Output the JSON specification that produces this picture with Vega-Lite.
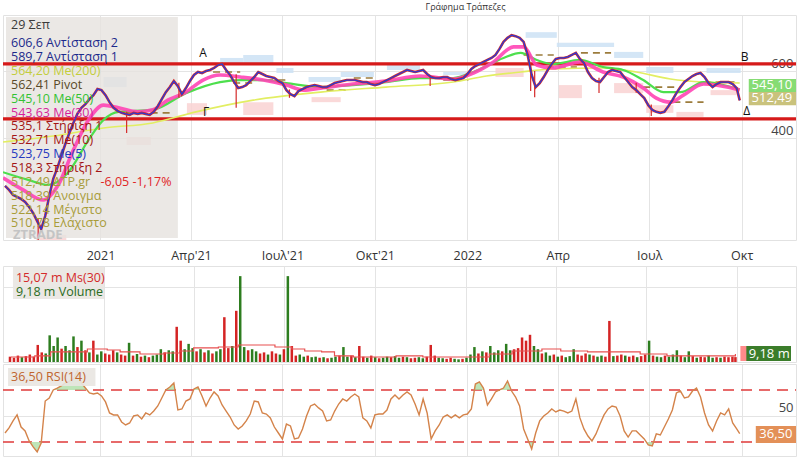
{
"$schema":"https://vega.github.io/schema/vega-lite/v6.json",
"background":"white",
"padding":{"left":0,"top":2,"right":0,"bottom":0},
"autosize":{"type":"pad"},
"spacing":0,
"title":{"text":"Γράφημα Τράπεζες","fontSize":9,"fontWeight":"normal","color":"#333333","anchor":"middle","dx":66,"offset":3,"font":"Open Sans"},
"config":{"font":"Open Sans","view":{"stroke":"#e2e2e2"},"axis":{"gridColor":"#e4e4e4","gridWidth":1}},
"resolve":{"scale":{"color":"independent","fill":"independent"}},
"datasets":{
"main":[
{"d":"2020-09-28","c":257,"r":36.9,"v":10,"dir":"d"},
{"d":"2020-10-02","c":245,"r":40.8,"v":8,"dir":"d"},
{"d":"2020-10-06","c":230,"r":46.2,"v":12,"dir":"d"},
{"d":"2020-10-10","c":224,"r":50.8,"v":9,"dir":"u"},
{"d":"2020-10-14","c":218,"r":41.5,"v":11,"dir":"d"},
{"d":"2020-10-18","c":209,"r":38.5,"v":14,"dir":"d"},
{"d":"2020-10-22","c":194,"r":30.8,"v":10,"dir":"d"},
{"d":"2020-10-26","c":176,"r":26.2,"v":32,"dir":"d"},
{"d":"2020-10-30","c":152,"r":22.3,"v":18,"dir":"d"},
{"d":"2020-11-03","c":128,"r":29.2,"v":16,"dir":"u"},
{"d":"2020-11-07","c":167,"r":61.5,"v":50,"dir":"u"},
{"d":"2020-11-11","c":227,"r":63.8,"v":30,"dir":"u"},
{"d":"2020-11-15","c":278,"r":70,"v":46,"dir":"u"},
{"d":"2020-11-19","c":310,"r":71.5,"v":25,"dir":"d"},
{"d":"2020-11-23","c":346,"r":73.1,"v":30,"dir":"u"},
{"d":"2020-11-27","c":382,"r":75.4,"v":22,"dir":"u"},
{"d":"2020-12-01","c":415,"r":76.9,"v":48,"dir":"u"},
{"d":"2020-12-05","c":445,"r":78.5,"v":28,"dir":"d"},
{"d":"2020-12-09","c":472,"r":84.6,"v":40,"dir":"u"},
{"d":"2020-12-13","c":490,"r":75.4,"v":22,"dir":"d"},
{"d":"2020-12-17","c":501,"r":71.5,"v":18,"dir":"u"},
{"d":"2020-12-21","c":516,"r":67.7,"v":40,"dir":"d"},
{"d":"2020-12-25","c":528,"r":66.9,"v":14,"dir":"u"},
{"d":"2020-12-29","c":546,"r":67.7,"v":20,"dir":"u"},
{"d":"2021-01-02","c":543,"r":65.4,"v":16,"dir":"d"},
{"d":"2021-01-06","c":528,"r":60.8,"v":14,"dir":"d"},
{"d":"2021-01-10","c":507,"r":52.3,"v":22,"dir":"d"},
{"d":"2021-01-14","c":490,"r":50.8,"v":18,"dir":"u"},
{"d":"2021-01-18","c":481,"r":50.8,"v":14,"dir":"d"},
{"d":"2021-01-22","c":475,"r":45.4,"v":12,"dir":"d"},
{"d":"2021-01-26","c":472,"r":43.1,"v":36,"dir":"u"},
{"d":"2021-01-30","c":469,"r":44.6,"v":12,"dir":"d"},
{"d":"2021-02-03","c":475,"r":50,"v":15,"dir":"u"},
{"d":"2021-02-07","c":472,"r":50.8,"v":10,"dir":"d"},
{"d":"2021-02-11","c":475,"r":47.7,"v":12,"dir":"u"},
{"d":"2021-02-15","c":472,"r":52.3,"v":9,"dir":"d"},
{"d":"2021-02-19","c":469,"r":50.8,"v":12,"dir":"u"},
{"d":"2021-02-23","c":478,"r":53.8,"v":14,"dir":"u"},
{"d":"2021-02-27","c":495,"r":57.7,"v":24,"dir":"u"},
{"d":"2021-03-03","c":516,"r":63.8,"v":18,"dir":"d"},
{"d":"2021-03-07","c":537,"r":70,"v":22,"dir":"u"},
{"d":"2021-03-11","c":552,"r":72.3,"v":20,"dir":"u"},
{"d":"2021-03-15","c":570,"r":75.4,"v":66,"dir":"d"},
{"d":"2021-03-19","c":555,"r":54.6,"v":40,"dir":"d"},
{"d":"2021-03-23","c":531,"r":55.4,"v":24,"dir":"u"},
{"d":"2021-03-27","c":549,"r":61.5,"v":34,"dir":"u"},
{"d":"2021-03-31","c":570,"r":63.1,"v":26,"dir":"u"},
{"d":"2021-04-04","c":588,"r":70.8,"v":20,"dir":"d"},
{"d":"2021-04-08","c":597,"r":72.3,"v":24,"dir":"u"},
{"d":"2021-04-12","c":594,"r":65.4,"v":18,"dir":"d"},
{"d":"2021-04-16","c":600,"r":57.7,"v":22,"dir":"u"},
{"d":"2021-04-20","c":603,"r":63.8,"v":16,"dir":"d"},
{"d":"2021-04-24","c":609,"r":68.5,"v":20,"dir":"u"},
{"d":"2021-04-28","c":618,"r":65.4,"v":24,"dir":"u"},
{"d":"2021-05-02","c":621,"r":58.5,"v":84,"dir":"d"},
{"d":"2021-05-06","c":603,"r":53.8,"v":26,"dir":"d"},
{"d":"2021-05-10","c":588,"r":49.2,"v":30,"dir":"u"},
{"d":"2021-05-14","c":567,"r":43.1,"v":96,"dir":"d"},
{"d":"2021-05-18","c":549,"r":40,"v":161,"dir":"u"},
{"d":"2021-05-22","c":552,"r":42.3,"v":28,"dir":"u"},
{"d":"2021-05-26","c":558,"r":46.2,"v":22,"dir":"d"},
{"d":"2021-05-30","c":570,"r":51.5,"v":24,"dir":"u"},
{"d":"2021-06-03","c":582,"r":61.5,"v":20,"dir":"u"},
{"d":"2021-06-07","c":597,"r":60.8,"v":16,"dir":"d"},
{"d":"2021-06-11","c":591,"r":52.3,"v":18,"dir":"d"},
{"d":"2021-06-15","c":585,"r":51.5,"v":14,"dir":"u"},
{"d":"2021-06-19","c":582,"r":48.5,"v":20,"dir":"d"},
{"d":"2021-06-23","c":579,"r":41.5,"v":16,"dir":"d"},
{"d":"2021-06-27","c":570,"r":36.9,"v":14,"dir":"u"},
{"d":"2021-07-01","c":564,"r":32.3,"v":24,"dir":"d"},
{"d":"2021-07-05","c":543,"r":43.8,"v":161,"dir":"u"},
{"d":"2021-07-09","c":531,"r":42.3,"v":30,"dir":"d"},
{"d":"2021-07-13","c":525,"r":32.3,"v":12,"dir":"d"},
{"d":"2021-07-17","c":540,"r":33.1,"v":14,"dir":"u"},
{"d":"2021-07-21","c":546,"r":40,"v":10,"dir":"u"},
{"d":"2021-07-25","c":552,"r":50,"v":12,"dir":"d"},
{"d":"2021-07-29","c":555,"r":57.7,"v":9,"dir":"u"},
{"d":"2021-08-02","c":558,"r":59.2,"v":10,"dir":"u"},
{"d":"2021-08-06","c":555,"r":56.2,"v":8,"dir":"d"},
{"d":"2021-08-10","c":552,"r":53.8,"v":9,"dir":"u"},
{"d":"2021-08-14","c":552,"r":46.2,"v":7,"dir":"d"},
{"d":"2021-08-18","c":558,"r":46.9,"v":8,"dir":"u"},
{"d":"2021-08-22","c":564,"r":53.8,"v":10,"dir":"u"},
{"d":"2021-08-26","c":567,"r":59.2,"v":12,"dir":"d"},
{"d":"2021-08-30","c":570,"r":63.1,"v":28,"dir":"u"},
{"d":"2021-09-03","c":573,"r":61.5,"v":10,"dir":"u"},
{"d":"2021-09-07","c":573,"r":64.6,"v":12,"dir":"d"},
{"d":"2021-09-11","c":573,"r":66.9,"v":9,"dir":"u"},
{"d":"2021-09-15","c":570,"r":64.6,"v":30,"dir":"d"},
{"d":"2021-09-19","c":567,"r":48.5,"v":10,"dir":"d"},
{"d":"2021-09-23","c":567,"r":46.2,"v":8,"dir":"u"},
{"d":"2021-09-27","c":561,"r":40.8,"v":12,"dir":"d"},
{"d":"2021-10-01","c":558,"r":50.8,"v":9,"dir":"u"},
{"d":"2021-10-05","c":561,"r":51.5,"v":7,"dir":"d"},
{"d":"2021-10-09","c":567,"r":51.5,"v":8,"dir":"u"},
{"d":"2021-10-13","c":573,"r":54.6,"v":10,"dir":"u"},
{"d":"2021-10-17","c":579,"r":63.1,"v":9,"dir":"d"},
{"d":"2021-10-21","c":585,"r":66.2,"v":11,"dir":"u"},
{"d":"2021-10-25","c":591,"r":63.1,"v":8,"dir":"u"},
{"d":"2021-10-29","c":597,"r":66.2,"v":10,"dir":"d"},
{"d":"2021-11-02","c":603,"r":68.5,"v":9,"dir":"u"},
{"d":"2021-11-06","c":600,"r":66.2,"v":7,"dir":"d"},
{"d":"2021-11-10","c":597,"r":59.2,"v":8,"dir":"d"},
{"d":"2021-11-14","c":600,"r":50.8,"v":9,"dir":"u"},
{"d":"2021-11-18","c":603,"r":63.1,"v":7,"dir":"u"},
{"d":"2021-11-22","c":591,"r":52.3,"v":10,"dir":"d"},
{"d":"2021-11-26","c":582,"r":32.3,"v":32,"dir":"d"},
{"d":"2021-11-30","c":579,"r":38.5,"v":12,"dir":"d"},
{"d":"2021-12-04","c":579,"r":43.1,"v":8,"dir":"u"},
{"d":"2021-12-08","c":582,"r":49.2,"v":7,"dir":"u"},
{"d":"2021-12-12","c":582,"r":50.8,"v":6,"dir":"d"},
{"d":"2021-12-16","c":576,"r":48.5,"v":8,"dir":"d"},
{"d":"2021-12-20","c":573,"r":50.8,"v":6,"dir":"u"},
{"d":"2021-12-24","c":576,"r":48.5,"v":5,"dir":"u"},
{"d":"2021-12-28","c":579,"r":50.8,"v":6,"dir":"d"},
{"d":"2022-01-01","c":591,"r":51.5,"v":8,"dir":"u"},
{"d":"2022-01-05","c":606,"r":55.4,"v":14,"dir":"u"},
{"d":"2022-01-09","c":615,"r":74.6,"v":28,"dir":"u"},
{"d":"2022-01-13","c":621,"r":76.2,"v":16,"dir":"d"},
{"d":"2022-01-17","c":627,"r":71.5,"v":20,"dir":"u"},
{"d":"2022-01-21","c":633,"r":58.5,"v":18,"dir":"d"},
{"d":"2022-01-25","c":639,"r":63.1,"v":30,"dir":"u"},
{"d":"2022-01-29","c":648,"r":68.5,"v":18,"dir":"u"},
{"d":"2022-02-02","c":666,"r":70,"v":22,"dir":"u"},
{"d":"2022-02-06","c":687,"r":71.5,"v":20,"dir":"d"},
{"d":"2022-02-10","c":699,"r":76.9,"v":34,"dir":"u"},
{"d":"2022-02-14","c":707,"r":69.2,"v":22,"dir":"u"},
{"d":"2022-02-18","c":704,"r":64.6,"v":24,"dir":"d"},
{"d":"2022-02-22","c":699,"r":57.7,"v":26,"dir":"d"},
{"d":"2022-02-26","c":687,"r":40,"v":46,"dir":"d"},
{"d":"2022-03-02","c":648,"r":32.3,"v":40,"dir":"d"},
{"d":"2022-03-06","c":588,"r":24.6,"v":51,"dir":"d"},
{"d":"2022-03-10","c":552,"r":36.9,"v":30,"dir":"u"},
{"d":"2022-03-14","c":564,"r":46.2,"v":24,"dir":"u"},
{"d":"2022-03-18","c":582,"r":50,"v":16,"dir":"d"},
{"d":"2022-03-22","c":603,"r":52.3,"v":18,"dir":"u"},
{"d":"2022-03-26","c":621,"r":55.4,"v":12,"dir":"u"},
{"d":"2022-03-30","c":636,"r":53.1,"v":14,"dir":"d"},
{"d":"2022-04-03","c":639,"r":54.6,"v":10,"dir":"u"},
{"d":"2022-04-07","c":639,"r":53.8,"v":12,"dir":"d"},
{"d":"2022-04-11","c":642,"r":52.3,"v":9,"dir":"u"},
{"d":"2022-04-15","c":648,"r":53.8,"v":11,"dir":"u"},
{"d":"2022-04-19","c":654,"r":63.1,"v":24,"dir":"u"},
{"d":"2022-04-23","c":636,"r":48.5,"v":14,"dir":"d"},
{"d":"2022-04-27","c":624,"r":40,"v":12,"dir":"d"},
{"d":"2022-05-01","c":597,"r":34.6,"v":16,"dir":"d"},
{"d":"2022-05-05","c":579,"r":30.8,"v":14,"dir":"u"},
{"d":"2022-05-09","c":570,"r":36.2,"v":12,"dir":"d"},
{"d":"2022-05-13","c":567,"r":43.8,"v":10,"dir":"u"},
{"d":"2022-05-17","c":582,"r":50.8,"v":12,"dir":"u"},
{"d":"2022-05-21","c":597,"r":55.4,"v":10,"dir":"d"},
{"d":"2022-05-25","c":603,"r":57.7,"v":77,"dir":"d"},
{"d":"2022-05-29","c":600,"r":56.9,"v":11,"dir":"u"},
{"d":"2022-06-02","c":597,"r":50,"v":12,"dir":"d"},
{"d":"2022-06-06","c":582,"r":38.5,"v":14,"dir":"d"},
{"d":"2022-06-10","c":567,"r":33.8,"v":12,"dir":"u"},
{"d":"2022-06-14","c":552,"r":38.5,"v":10,"dir":"d"},
{"d":"2022-06-18","c":543,"r":38.5,"v":12,"dir":"d"},
{"d":"2022-06-22","c":531,"r":35.4,"v":9,"dir":"u"},
{"d":"2022-06-26","c":519,"r":32.3,"v":11,"dir":"d"},
{"d":"2022-06-30","c":498,"r":27.7,"v":14,"dir":"d"},
{"d":"2022-07-04","c":484,"r":26.9,"v":40,"dir":"u"},
{"d":"2022-07-08","c":478,"r":36.2,"v":12,"dir":"d"},
{"d":"2022-07-12","c":475,"r":35.4,"v":10,"dir":"u"},
{"d":"2022-07-16","c":478,"r":41.5,"v":9,"dir":"u"},
{"d":"2022-07-20","c":495,"r":47.7,"v":12,"dir":"d"},
{"d":"2022-07-24","c":513,"r":54.6,"v":10,"dir":"u"},
{"d":"2022-07-28","c":534,"r":67.7,"v":14,"dir":"u"},
{"d":"2022-08-01","c":552,"r":69.2,"v":22,"dir":"u"},
{"d":"2022-08-05","c":567,"r":63.8,"v":12,"dir":"d"},
{"d":"2022-08-09","c":576,"r":64.6,"v":9,"dir":"u"},
{"d":"2022-08-13","c":585,"r":69.2,"v":20,"dir":"u"},
{"d":"2022-08-17","c":591,"r":71.5,"v":11,"dir":"d"},
{"d":"2022-08-21","c":594,"r":64.6,"v":8,"dir":"u"},
{"d":"2022-08-25","c":582,"r":52.3,"v":10,"dir":"d"},
{"d":"2022-08-29","c":564,"r":43.1,"v":9,"dir":"d"},
{"d":"2022-09-02","c":552,"r":38.5,"v":12,"dir":"u"},
{"d":"2022-09-06","c":561,"r":46.2,"v":8,"dir":"u"},
{"d":"2022-09-10","c":567,"r":52.3,"v":9,"dir":"d"},
{"d":"2022-09-14","c":567,"r":50.8,"v":8,"dir":"u"},
{"d":"2022-09-18","c":567,"r":55.4,"v":10,"dir":"d"},
{"d":"2022-09-22","c":561,"r":44.6,"v":9,"dir":"d"},
{"d":"2022-09-26","c":549,"r":40,"v":10,"dir":"d"},
{"d":"2022-09-29","c":512.49,"r":36.5,"v":9.18,"dir":"d"}
],
"ob":[
{"d":"2020-10-23","r":30,"b":30,"g":"a"},{"d":"2020-10-26","r":26.2,"b":30,"g":"a"},{"d":"2020-10-30","r":22.3,"b":30,"g":"a"},{"d":"2020-11-03","r":29.2,"b":30,"g":"a"},
{"d":"2020-11-15","r":70,"b":70,"g":"b"},{"d":"2020-11-19","r":71.5,"b":70,"g":"b"},{"d":"2020-11-23","r":73.1,"b":70,"g":"b"},{"d":"2020-11-27","r":75.4,"b":70,"g":"b"},{"d":"2020-12-01","r":76.9,"b":70,"g":"b"},{"d":"2020-12-05","r":78.5,"b":70,"g":"b"},{"d":"2020-12-09","r":84.6,"b":70,"g":"b"},{"d":"2020-12-13","r":75.4,"b":70,"g":"b"},{"d":"2020-12-17","r":71.5,"b":70,"g":"b"},{"d":"2020-12-19","r":70,"b":70,"g":"b"},
{"d":"2021-03-07","r":70,"b":70,"g":"c"},{"d":"2021-03-11","r":72.3,"b":70,"g":"c"},{"d":"2021-03-15","r":75.4,"b":70,"g":"c"},{"d":"2021-03-16","r":70,"b":70,"g":"c"},
{"d":"2021-04-03","r":70,"b":70,"g":"e"},{"d":"2021-04-04","r":70.8,"b":70,"g":"e"},{"d":"2021-04-08","r":72.3,"b":70,"g":"e"},{"d":"2021-04-10","r":70,"b":70,"g":"e"},
{"d":"2022-01-07","r":70,"b":70,"g":"f"},{"d":"2022-01-09","r":74.6,"b":70,"g":"f"},{"d":"2022-01-13","r":76.2,"b":70,"g":"f"},{"d":"2022-01-17","r":71.5,"b":70,"g":"f"},{"d":"2022-01-18","r":70,"b":70,"g":"f"},
{"d":"2022-02-02","r":70,"b":70,"g":"h"},{"d":"2022-02-06","r":71.5,"b":70,"g":"h"},{"d":"2022-02-10","r":76.9,"b":70,"g":"h"},{"d":"2022-02-13","r":70,"b":70,"g":"h"},
{"d":"2022-03-04","r":30,"b":30,"g":"k"},{"d":"2022-03-06","r":24.6,"b":30,"g":"k"},{"d":"2022-03-08","r":30,"b":30,"g":"k"},
{"d":"2022-06-29","r":30,"b":30,"g":"m"},{"d":"2022-06-30","r":27.7,"b":30,"g":"m"},{"d":"2022-07-04","r":26.9,"b":30,"g":"m"},{"d":"2022-07-06","r":30,"b":30,"g":"m"},
{"d":"2022-08-16","r":70,"b":70,"g":"n"},{"d":"2022-08-17","r":71.5,"b":70,"g":"n"},{"d":"2022-08-18","r":70,"b":70,"g":"n"}
],
"ma":[
{"d":"2020-09-26","s":"m200","v":388},{"d":"2020-11-15","s":"m200","v":406},{"d":"2021-01-04","s":"m200","v":430},{"d":"2021-02-22","s":"m200","v":445},{"d":"2021-04-06","s":"m200","v":478},{"d":"2021-06-02","s":"m200","v":513},{"d":"2021-08-08","s":"m200","v":537},{"d":"2021-10-12","s":"m200","v":552},{"d":"2021-12-18","s":"m200","v":567},{"d":"2022-01-20","s":"m200","v":585},{"d":"2022-02-23","s":"m200","v":597},{"d":"2022-03-27","s":"m200","v":606},{"d":"2022-05-16","s":"m200","v":609},{"d":"2022-06-18","s":"m200","v":597},{"d":"2022-07-22","s":"m200","v":576},{"d":"2022-08-24","s":"m200","v":567},{"d":"2022-09-29","s":"m200","v":564.2},
{"d":"2020-09-26","s":"m50","v":298},{"d":"2020-10-21","s":"m50","v":275},{"d":"2020-11-10","s":"m50","v":260},{"d":"2020-11-30","s":"m50","v":298},{"d":"2020-12-20","s":"m50","v":394},{"d":"2021-01-04","s":"m50","v":454},{"d":"2021-01-19","s":"m50","v":478},{"d":"2021-02-22","s":"m50","v":484},{"d":"2021-03-27","s":"m50","v":534},{"d":"2021-04-30","s":"m50","v":567},{"d":"2021-05-20","s":"m50","v":573},{"d":"2021-06-12","s":"m50","v":573},{"d":"2021-07-05","s":"m50","v":564},{"d":"2021-08-08","s":"m50","v":552},{"d":"2021-09-09","s":"m50","v":558},{"d":"2021-10-12","s":"m50","v":567},{"d":"2021-11-15","s":"m50","v":579},{"d":"2021-12-18","s":"m50","v":579},{"d":"2022-01-07","s":"m50","v":597},{"d":"2022-02-06","s":"m50","v":639},{"d":"2022-02-23","s":"m50","v":654},{"d":"2022-03-11","s":"m50","v":633},{"d":"2022-03-27","s":"m50","v":621},{"d":"2022-04-23","s":"m50","v":633},{"d":"2022-05-16","s":"m50","v":612},{"d":"2022-06-05","s":"m50","v":603},{"d":"2022-06-25","s":"m50","v":573},{"d":"2022-07-15","s":"m50","v":537},{"d":"2022-08-01","s":"m50","v":537},{"d":"2022-08-24","s":"m50","v":567},{"d":"2022-09-29","s":"m50","v":545.1},
{"d":"2020-09-26","s":"m30","v":281},{"d":"2020-10-16","s":"m30","v":245},{"d":"2020-11-05","s":"m30","v":215},{"d":"2020-11-20","s":"m30","v":260},{"d":"2020-12-05","s":"m30","v":364},{"d":"2020-12-20","s":"m30","v":454},{"d":"2021-01-04","s":"m30","v":498},{"d":"2021-01-19","s":"m30","v":490},{"d":"2021-02-07","s":"m30","v":478},{"d":"2021-02-22","s":"m30","v":484},{"d":"2021-03-09","s":"m30","v":513},{"d":"2021-03-27","s":"m30","v":537},{"d":"2021-04-13","s":"m30","v":573},{"d":"2021-04-30","s":"m30","v":588},{"d":"2021-05-20","s":"m30","v":582},{"d":"2021-06-12","s":"m30","v":573},{"d":"2021-07-05","s":"m30","v":558},{"d":"2021-07-22","s":"m30","v":543},{"d":"2021-08-08","s":"m30","v":549},{"d":"2021-09-09","s":"m30","v":561},{"d":"2021-10-12","s":"m30","v":570},{"d":"2021-11-15","s":"m30","v":585},{"d":"2021-12-18","s":"m30","v":576},{"d":"2022-01-07","s":"m30","v":594},{"d":"2022-01-27","s":"m30","v":627},{"d":"2022-02-16","s":"m30","v":672},{"d":"2022-02-26","s":"m30","v":672},{"d":"2022-03-11","s":"m30","v":618},{"d":"2022-03-27","s":"m30","v":609},{"d":"2022-04-23","s":"m30","v":627},{"d":"2022-05-16","s":"m30","v":597},{"d":"2022-06-05","s":"m30","v":582},{"d":"2022-06-25","s":"m30","v":549},{"d":"2022-07-08","s":"m30","v":519},{"d":"2022-07-22","s":"m30","v":507},{"d":"2022-08-04","s":"m30","v":528},{"d":"2022-08-24","s":"m30","v":561},{"d":"2022-09-29","s":"m30","v":543.6}
],
"zones":[
{"d1":"2021-01-04","d2":"2021-01-27","lo":552,"hi":582,"k":"R"},
{"d1":"2021-04-30","d2":"2021-05-23","lo":618,"hi":639,"k":"R"},
{"d1":"2021-05-23","d2":"2021-06-22","lo":624,"hi":648,"k":"R"},
{"d1":"2021-06-25","d2":"2021-07-12","lo":594,"hi":609,"k":"R"},
{"d1":"2021-07-27","d2":"2021-08-28","lo":567,"hi":582,"k":"R"},
{"d1":"2021-08-28","d2":"2021-09-30","lo":582,"hi":597,"k":"R"},
{"d1":"2021-10-13","d2":"2021-11-15","lo":603,"hi":618,"k":"R"},
{"d1":"2021-12-08","d2":"2022-01-02","lo":588,"hi":597,"k":"R"},
{"d1":"2022-02-28","d2":"2022-03-31","lo":699,"hi":716,"k":"R"},
{"d1":"2022-03-31","d2":"2022-05-27","lo":672,"hi":684,"k":"R"},
{"d1":"2022-05-27","d2":"2022-06-25","lo":639,"hi":657,"k":"R"},
{"d1":"2022-06-28","d2":"2022-07-25","lo":594,"hi":612,"k":"R"},
{"d1":"2022-08-27","d2":"2022-09-30","lo":594,"hi":609,"k":"R"},
{"d1":"2020-10-29","d2":"2020-11-28","lo":90,"hi":111,"k":"S"},
{"d1":"2021-01-27","d2":"2021-02-20","lo":379,"hi":403,"k":"S"},
{"d1":"2021-03-28","d2":"2021-04-17","lo":469,"hi":504,"k":"S"},
{"d1":"2021-05-23","d2":"2021-06-22","lo":469,"hi":507,"k":"S"},
{"d1":"2021-07-30","d2":"2021-08-28","lo":507,"hi":522,"k":"S"},
{"d1":"2022-01-29","d2":"2022-02-26","lo":582,"hi":609,"k":"S"},
{"d1":"2022-04-02","d2":"2022-04-25","lo":519,"hi":558,"k":"S"},
{"d1":"2022-05-27","d2":"2022-06-25","lo":534,"hi":564,"k":"S"},
{"d1":"2022-06-28","d2":"2022-07-25","lo":475,"hi":498,"k":"S"},
{"d1":"2022-07-28","d2":"2022-08-24","lo":463,"hi":478,"k":"S"},
{"d1":"2022-08-31","d2":"2022-09-26","lo":528,"hi":543,"k":"S"}
],
"piv":[
{"d1":"2021-01-27","d2":"2021-03-15","p":475},
{"d1":"2021-04-23","d2":"2021-05-20","p":597},
{"d1":"2021-05-13","d2":"2021-06-02","p":564},
{"d1":"2021-06-15","d2":"2021-07-05","p":573},
{"d1":"2021-08-14","d2":"2021-09-03","p":543},
{"d1":"2021-09-10","d2":"2021-09-30","p":579},
{"d1":"2021-12-08","d2":"2022-01-02","p":573},
{"d1":"2022-02-26","d2":"2022-03-28","p":648},
{"d1":"2022-03-21","d2":"2022-04-20","p":612},
{"d1":"2022-04-24","d2":"2022-05-24","p":654},
{"d1":"2022-06-25","d2":"2022-07-28","p":552},
{"d1":"2022-07-25","d2":"2022-08-24","p":507},
{"d1":"2022-08-24","d2":"2022-09-26","p":567}
],
"wick":[
{"d":"2020-10-31","lo":95,"hi":160},
{"d":"2021-01-27","lo":415,"hi":478},
{"d":"2021-03-20","lo":520,"hi":565},
{"d":"2021-05-16","lo":490,"hi":590},
{"d":"2021-07-08","lo":520,"hi":545},
{"d":"2021-11-25","lo":555,"hi":582},
{"d":"2022-03-05","lo":540,"hi":620},
{"d":"2022-03-09","lo":522,"hi":600},
{"d":"2022-05-12","lo":534,"hi":580},
{"d":"2022-06-18","lo":535,"hi":565},
{"d":"2022-07-03","lo":466,"hi":500}
],
"trend":[{"p":621},{"p":457}],
"lbl":[
{"d":"2021-04-13","p":654,"t":"Α"},
{"d":"2022-10-04","p":642,"t":"Β"},
{"d":"2021-04-16","p":478,"t":"Γ"},
{"d":"2022-10-06","p":481,"t":"Δ"}
],
"leg":[
{"i":1,"t":"606,6 Αντίσταση 2","k":"res"},
{"i":2,"t":"589,7 Αντίσταση 1","k":"res"},
{"i":3,"t":"564,20 Me(200)","k":"m200"},
{"i":4,"t":"562,41 Pivot","k":"piv"},
{"i":5,"t":"545,10 Me(50)","k":"m50"},
{"i":6,"t":"543,63 Me(30)","k":"m30"},
{"i":7,"t":"535,1 Στήριξη 1","k":"sup"},
{"i":8,"t":"532,71 Me(10)","k":"m10"},
{"i":9,"t":"523,75 Me(5)","k":"m5"},
{"i":10,"t":"518,3 Στήριξη 2","k":"sup"},
{"i":11,"t":"512,49 ΔΤΡ.gr","k":"last"},
{"i":12,"t":"518,39 Άνοιγμα","k":"ohlc"},
{"i":13,"t":"522,14 Μέγιστο","k":"ohlc"},
{"i":14,"t":"510,78 Ελάχιστο","k":"ohlc"}
],
"ms":[
{"d":"2020-09-29","m":9.4},{"d":"2020-10-23","m":11.3},{"d":"2020-11-08","m":18.8},{"d":"2020-12-15","m":24.4},{"d":"2021-01-04","m":22.5},{"d":"2021-01-17","m":18.8},{"d":"2021-02-06","m":15},{"d":"2021-03-02","m":16.9},{"d":"2021-03-18","m":20.6},{"d":"2021-04-01","m":26.3},{"d":"2021-04-26","m":28.1},{"d":"2021-05-16","m":31.9},{"d":"2021-06-05","m":31.9},{"d":"2021-06-22","m":28.1},{"d":"2021-07-09","m":24.4},{"d":"2021-07-22","m":20.6},{"d":"2021-08-08","m":18.8},{"d":"2021-08-21","m":11.3},{"d":"2021-09-09","m":9.4},{"d":"2021-10-22","m":11.3},{"d":"2021-11-18","m":9.4},{"d":"2021-12-31","m":9.4},{"d":"2022-01-24","m":15},{"d":"2022-02-16","m":20.6},{"d":"2022-03-18","m":24.4},{"d":"2022-04-06","m":20.6},{"d":"2022-05-03","m":18.8},{"d":"2022-06-02","m":18.8},{"d":"2022-06-25","m":15},{"d":"2022-07-22","m":11.3},{"d":"2022-08-24","m":11.3},{"d":"2022-09-29","m":15.07}
]
},
"vconcat":[
{
"width":793,"height":225,
"resolve":{"scale":{"y":"independent"}},
"layer":[
{"layer":[
{"data":{"name":"zones"},"mark":{"type":"rect","opacity":0.85,"clip":true},
 "encoding":{
  "x":{"field":"d1","type":"temporal","scale":{"type":"utc","domain":[{"year":2020,"month":9,"date":26,"utc":true},{"year":2022,"month":11,"date":24,"utc":true}]},
   "axis":{"values":[{"year":2021,"month":1,"date":1,"utc":true},{"year":2021,"month":4,"date":1,"utc":true},{"year":2021,"month":7,"date":1,"utc":true},{"year":2021,"month":10,"date":1,"utc":true},{"year":2022,"month":1,"date":1,"utc":true},{"year":2022,"month":4,"date":1,"utc":true},{"year":2022,"month":7,"date":1,"utc":true},{"year":2022,"month":10,"date":1,"utc":true}],
   "labelExpr":"utcmonth(datum.value)==0 ? ''+utcyear(datum.value) : (utcmonth(datum.value)==3 ? 'Απρ' : utcmonth(datum.value)==6 ? 'Ιουλ' : 'Οκτ') + (utcyear(datum.value)==2021 ? \"'21\" : '')",
   "grid":true,"ticks":false,"tickSize":0,"domain":false,"title":null,"labelFontSize":12.5,"labelColor":"#333333","labelPadding":9,"minExtent":24,"maxExtent":24}},
  "x2":{"field":"d2"},
  "y":{"field":"lo","type":"quantitative","scale":{"domain":[95.5,767.2],"nice":false,"zero":false},
   "axis":{"orient":"right","values":[400,600],"grid":true,"ticks":false,"domain":false,"title":null,"labelAlign":"right","labelPadding":-3,"labelBaseline":"bottom","labelOffset":-1,"labelFontSize":13,"labelColor":"#444444","minExtent":0,"maxExtent":0}},
  "y2":{"field":"hi"},
  "fill":{"field":"k","type":"nominal","scale":{"domain":["R","S"],"range":["#cde2f5","#f9d2d2"]},"legend":null}
 }},
{"data":{"values":[{}]},"mark":{"type":"rect","color":"#e6e2de","opacity":0.8},
 "encoding":{"x":{"datum":{"year":2020,"month":9,"date":29,"utc":true},"type":"temporal"},"x2":{"datum":{"year":2021,"month":3,"date":19,"utc":true}},
  "y":{"datum":761,"type":"quantitative"},"y2":{"datum":101.5}}},
{"data":{"name":"piv"},"mark":{"type":"rule","color":"#9c7c3c","strokeWidth":1.6,"strokeDash":[7,5]},
 "encoding":{"x":{"field":"d1","type":"temporal"},"x2":{"field":"d2"},"y":{"field":"p","type":"quantitative"}}},
{"data":{"name":"trend"},"mark":{"type":"rule","color":"#d61a1a","strokeWidth":3.2},
 "encoding":{"y":{"field":"p","type":"quantitative"}}},
{"data":{"name":"ma"},"transform":[{"filter":"datum.s=='m200'"}],"mark":{"type":"line","color":"#e2ee62","strokeWidth":1.6,"interpolate":"monotone","clip":true},
 "encoding":{"x":{"field":"d","type":"temporal"},"y":{"field":"v","type":"quantitative"}}},
{"data":{"name":"ma"},"transform":[{"filter":"datum.s=='m50'"}],"mark":{"type":"line","color":"#4ddf4d","strokeWidth":2.2,"interpolate":"monotone","clip":true},
 "encoding":{"x":{"field":"d","type":"temporal"},"y":{"field":"v","type":"quantitative"}}},
{"data":{"name":"ma"},"transform":[{"filter":"datum.s=='m30'"}],"mark":{"type":"line","color":"#ff45b5","strokeWidth":3.6,"interpolate":"monotone","opacity":0.9,"clip":true},
 "encoding":{"x":{"field":"d","type":"temporal"},"y":{"field":"v","type":"quantitative"}}},
{"data":{"name":"wick"},"mark":{"type":"rule","color":"#d42a2a","strokeWidth":1.2,"clip":true},
 "encoding":{"x":{"field":"d","type":"temporal"},"y":{"field":"lo","type":"quantitative"},"y2":{"field":"hi"}}},
{"data":{"name":"main"},"mark":{"type":"line","color":"#d42a2a","strokeWidth":2.6,"clip":true},
 "encoding":{"x":{"field":"d","type":"temporal"},"y":{"field":"c","type":"quantitative"}}},
{"data":{"name":"main"},"mark":{"type":"line","color":"#2a3bd4","strokeWidth":1.3,"clip":true},
 "encoding":{"x":{"field":"d","type":"temporal"},"y":{"field":"c","type":"quantitative"}}},
{"data":{"name":"lbl"},"mark":{"type":"text","fontSize":12,"color":"#111111","align":"center","baseline":"middle"},
 "encoding":{"x":{"field":"d","type":"temporal"},"y":{"field":"p","type":"quantitative"},"text":{"field":"t"}}},
{"data":{"values":[{}]},"mark":{"type":"rect","color":"#86dc74"},
 "encoding":{"x":{"datum":{"year":2022,"month":10,"date":8,"utc":true},"type":"temporal"},"x2":{"datum":{"year":2022,"month":11,"date":24,"utc":true}},"y":{"datum":576,"type":"quantitative"},"y2":{"datum":537}}},
{"data":{"values":[{}]},"mark":{"type":"rect","color":"#c9c27c"},
 "encoding":{"x":{"datum":{"year":2022,"month":10,"date":8,"utc":true},"type":"temporal"},"x2":{"datum":{"year":2022,"month":11,"date":24,"utc":true}},"y":{"datum":537,"type":"quantitative"},"y2":{"datum":498}}},
{"data":{"values":[{"t":"545,10","p":557},{"t":"512,49","p":518}]},"mark":{"type":"text","color":"white","fontSize":13,"align":"center","baseline":"middle"},
 "encoding":{"x":{"datum":{"year":2022,"month":10,"date":31,"utc":true},"type":"temporal"},"y":{"field":"p","type":"quantitative"},"text":{"field":"t"}}}
]},
{"layer":[
{"data":{"name":"leg"},"mark":{"type":"text","fontSize":12.5,"align":"left","baseline":"middle"},
 "encoding":{"x":{"datum":{"year":2020,"month":10,"date":4,"utc":true},"type":"temporal"},
  "y":{"field":"i","type":"quantitative","scale":{"domain":[-1.047,15.199],"reverse":true,"nice":false,"zero":false},"axis":null},
  "text":{"field":"t"},
  "color":{"field":"k","type":"nominal","legend":null,"scale":{"domain":["res","m200","piv","m50","m30","sup","m10","m5","last","ohlc"],"range":["#1c2a8c","#c3cd3c","#5a4a28","#33c233","#d61f9c","#a31515","#a31515","#2438c0","#a89c3a","#a89c3a"]}}}},
{"data":{"values":[{"t":"29 Σεπ"}]},"mark":{"type":"text","fontSize":12.5,"align":"left","baseline":"middle","color":"#3a3a3a"},
 "encoding":{"x":{"datum":{"year":2020,"month":10,"date":4,"utc":true},"type":"temporal"},"y":{"datum":-0.3,"type":"quantitative"},"text":{"field":"t"}}},
{"data":{"values":[{"t":"-6,05 -1,17%"}]},"mark":{"type":"text","fontSize":12.5,"align":"left","baseline":"middle","color":"#e02525"},
 "encoding":{"x":{"datum":{"year":2021,"month":1,"date":1,"utc":true},"type":"temporal"},"y":{"datum":11,"type":"quantitative"},"text":{"field":"t"}}},
{"data":{"values":[{"t":"ZTRADE"}]},"mark":{"type":"text","fontSize":13,"fontWeight":"bold","align":"left","baseline":"middle","color":"#c4c4c4"},
 "encoding":{"x":{"datum":{"year":2020,"month":10,"date":6,"utc":true},"type":"temporal"},"y":{"datum":14.84,"type":"quantitative"},"text":{"field":"t"}}}
]}
]
},
{
"width":793,"height":96,
"layer":[
{"data":{"name":"main"},"mark":{"type":"bar","width":2.5},
 "encoding":{
  "x":{"field":"d","type":"temporal","scale":{"type":"utc","domain":[{"year":2020,"month":9,"date":26,"utc":true},{"year":2022,"month":11,"date":24,"utc":true}]},
   "axis":{"values":[{"year":2021,"month":1,"date":1,"utc":true},{"year":2021,"month":4,"date":1,"utc":true},{"year":2021,"month":7,"date":1,"utc":true},{"year":2021,"month":10,"date":1,"utc":true},{"year":2022,"month":1,"date":1,"utc":true},{"year":2022,"month":4,"date":1,"utc":true},{"year":2022,"month":7,"date":1,"utc":true},{"year":2022,"month":10,"date":1,"utc":true}],
   "grid":true,"labels":false,"ticks":false,"domain":false,"title":null,"minExtent":0,"maxExtent":0}},
  "y":{"field":"v","type":"quantitative","scale":{"domain":[0,180],"nice":false},"axis":{"orient":"right","values":[140],"grid":true,"labels":false,"ticks":false,"domain":false,"title":null,"minExtent":0,"maxExtent":0}},
  "color":{"field":"dir","type":"nominal","scale":{"domain":["u","d"],"range":["#2d7d1f","#d42424"]},"legend":null}
 }},
{"data":{"name":"ms"},"mark":{"type":"line","color":"#e85050","strokeWidth":1.2,"interpolate":"step-after"},
 "encoding":{"x":{"field":"d","type":"temporal"},"y":{"field":"m","type":"quantitative"}}},
{"data":{"values":[{}]},"mark":{"type":"rect","color":"#e9e5e1","opacity":0.9},
 "encoding":{"x":{"datum":{"year":2020,"month":10,"date":1,"utc":true},"type":"temporal"},"x2":{"datum":{"year":2021,"month":1,"date":1,"utc":true}},"y":{"datum":178,"type":"quantitative"},"y2":{"datum":118}}},
{"data":{"values":[{"t":"15,07 m Ms(30)","p":157.5,"k":"ms"},{"t":"9,18 m Volume","p":131,"k":"vol"}]},"mark":{"type":"text","fontSize":12.5,"align":"left","baseline":"middle"},
 "encoding":{"x":{"datum":{"year":2020,"month":10,"date":4,"utc":true},"type":"temporal"},"y":{"field":"p","type":"quantitative"},"text":{"field":"t"},
  "fill":{"field":"k","type":"nominal","scale":{"domain":["ms","vol"],"range":["#d42a2a","#2a6b22"]},"legend":null}}},
{"data":{"values":[{}]},"mark":{"type":"rect","color":"#ff8a8a"},
 "encoding":{"x":{"datum":{"year":2022,"month":10,"date":4,"utc":true},"type":"temporal"},"x2":{"datum":{"year":2022,"month":10,"date":12,"utc":true}},"y":{"datum":30,"type":"quantitative"},"y2":{"datum":1.9}}},
{"data":{"values":[{}]},"mark":{"type":"rect","color":"#3b7d2b"},
 "encoding":{"x":{"datum":{"year":2022,"month":10,"date":10,"utc":true},"type":"temporal"},"x2":{"datum":{"year":2022,"month":11,"date":24,"utc":true}},"y":{"datum":30,"type":"quantitative"},"y2":{"datum":1.9}}},
{"data":{"values":[{"t":"9,18 m"}]},"mark":{"type":"text","color":"white","fontSize":13,"align":"center","baseline":"middle"},
 "encoding":{"x":{"datum":{"year":2022,"month":11,"date":2,"utc":true},"type":"temporal"},"y":{"datum":15,"type":"quantitative"},"text":{"field":"t"}}}
]
},
{
"width":793,"height":92,
"layer":[
{"data":{"values":[{"p":70},{"p":30}]},"mark":{"type":"rule","color":"#e03a3a","strokeWidth":1.5,"strokeDash":[11,7]},
 "encoding":{
  "x":{"datum":{"year":2020,"month":9,"date":26,"utc":true},"type":"temporal","scale":{"type":"utc","domain":[{"year":2020,"month":9,"date":26,"utc":true},{"year":2022,"month":11,"date":24,"utc":true}]},
   "axis":{"values":[{"year":2021,"month":1,"date":1,"utc":true},{"year":2021,"month":4,"date":1,"utc":true},{"year":2021,"month":7,"date":1,"utc":true},{"year":2021,"month":10,"date":1,"utc":true},{"year":2022,"month":1,"date":1,"utc":true},{"year":2022,"month":4,"date":1,"utc":true},{"year":2022,"month":7,"date":1,"utc":true},{"year":2022,"month":10,"date":1,"utc":true}],
   "grid":true,"labels":false,"ticks":false,"domain":false,"title":null,"minExtent":0,"maxExtent":0}},
  "x2":{"datum":{"year":2022,"month":11,"date":24,"utc":true}},
  "y":{"field":"p","type":"quantitative","scale":{"domain":[19.2,90],"nice":false,"zero":false},
   "axis":{"orient":"right","values":[50],"grid":true,"ticks":false,"domain":false,"title":null,"labelAlign":"right","labelPadding":-3,"labelBaseline":"bottom","labelOffset":-1,"labelFontSize":13,"labelColor":"#444444","minExtent":0,"maxExtent":0}}
 }},
{"data":{"name":"ob"},"mark":{"type":"area","color":"#a8dca0","opacity":0.75},
 "encoding":{"x":{"field":"d","type":"temporal"},"y":{"field":"r","type":"quantitative"},"y2":{"field":"b"},"detail":{"field":"g","type":"nominal"}}},
{"data":{"name":"main"},"mark":{"type":"line","color":"#d4834a","strokeWidth":1.4},
 "encoding":{"x":{"field":"d","type":"temporal"},"y":{"field":"r","type":"quantitative"}}},
{"data":{"values":[{}]},"mark":{"type":"rect","color":"#e9e5e1","opacity":0.9},
 "encoding":{"x":{"datum":{"year":2020,"month":10,"date":1,"utc":true},"type":"temporal"},"x2":{"datum":{"year":2020,"month":12,"date":27,"utc":true}},"y":{"datum":86.9,"type":"quantitative"},"y2":{"datum":73.1}}},
{"data":{"values":[{"t":"36,50 RSI(14)"}]},"mark":{"type":"text","fontSize":12.5,"align":"left","baseline":"middle","color":"#c0652e"},
 "encoding":{"x":{"datum":{"year":2020,"month":10,"date":4,"utc":true},"type":"temporal"},"y":{"datum":80,"type":"quantitative"},"text":{"field":"t"}}},
{"data":{"values":[{}]},"mark":{"type":"rect","color":"#e39058"},
 "encoding":{"x":{"datum":{"year":2022,"month":10,"date":15,"utc":true},"type":"temporal"},"x2":{"datum":{"year":2022,"month":11,"date":24,"utc":true}},"y":{"datum":42.3,"type":"quantitative"},"y2":{"datum":29.2}}},
{"data":{"values":[{"t":"36,50"}]},"mark":{"type":"text","color":"white","fontSize":13,"align":"center","baseline":"middle"},
 "encoding":{"x":{"datum":{"year":2022,"month":11,"date":4,"utc":true},"type":"temporal"},"y":{"datum":35.8,"type":"quantitative"},"text":{"field":"t"}}}
]
}
]
}
